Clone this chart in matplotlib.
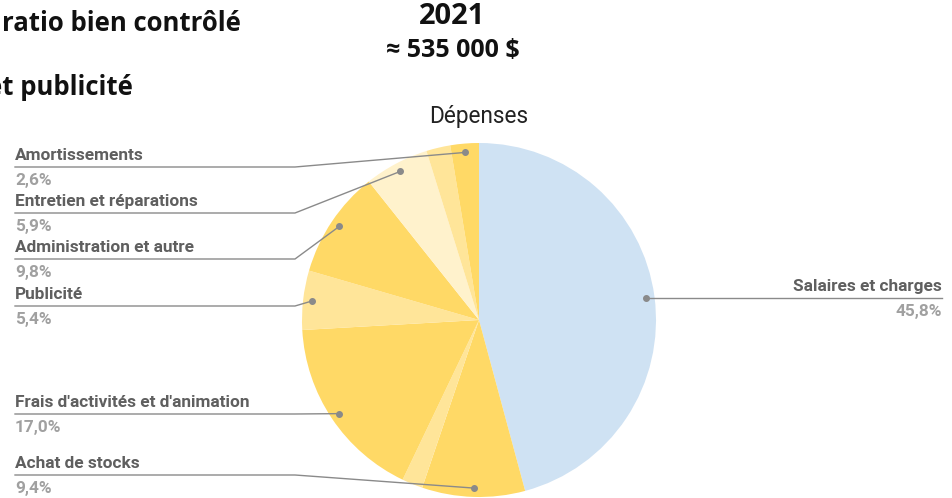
import matplotlib.pyplot as plt
import numpy as np

categories = ['Salaires et charges', 'Achat de stocks', '', "Frais d'activités et d'animation",
              'Publicité', 'Administration et autre', 'Entretien et réparations', '', 'Amortissements']
values = [45.8, 9.4, 1.9, 17.0, 5.4, 9.8, 5.9, 2.2, 2.6]
colors = ['#cfe2f3', '#ffd966', '#ffe599', '#ffd966', '#ffe599', '#ffd966', '#fff2cc', '#ffe599', '#ffd966']

title = 'Dépenses'
year = '2021'
total = '≈ 535 000 $'

H = 498
def Y(y):
    return H - y

fig = plt.figure(figsize=(9.52, 4.98), dpi=100)
ax = fig.add_axes([0, 0, 1, 1])

cx, cy, r = 479, Y(320), 177
wedges, _ = ax.pie(values, colors=colors, startangle=90, counterclock=False,
                   center=(cx, cy), radius=r, wedgeprops=dict(linewidth=0))
ax.set_xlim(0, 952)
ax.set_ylim(0, H)
ax.set_aspect('equal')
ax.axis('off')

# underline y (pixels) for the labelled slices, left side
left_lines = {
    'Amortissements': 167,
    'Entretien et réparations': 213,
    'Administration et autre': 259,
    'Publicité': 306,
    "Frais d'activités et d'animation": 414,
    'Achat de stocks': 475,
}
line_col = '#8a8a8a'
lab_col = '#5f5f5f'
pct_col = '#a0a0a0'
fnt = 'Roboto'
fs = 12.4

for w, cat, v in zip(wedges, categories, values):
    if not cat:
        continue
    mid = np.deg2rad((w.theta1 + w.theta2) / 2)
    dx = cx + 0.95 * r * np.cos(mid)
    dy = cy + 0.95 * r * np.sin(mid)
    pct = f'{v:.1f}'.replace('.', ',') + '%'
    ax.plot(dx, dy, 'o', color=line_col, ms=4, zorder=5)
    if cat in left_lines:
        ly = Y(left_lines[cat])
        ax.plot([15, 295, dx], [ly, ly, dy], color=line_col, lw=1.0, zorder=4)
        ax.text(15, ly + 4, cat, ha='left', va='bottom', fontsize=fs, fontweight='bold',
                color=lab_col, family=fnt)
        ax.text(15, ly - 6, pct, ha='left', va='top', fontsize=fs, fontweight='bold',
                color=pct_col, family=fnt)
    else:
        ax.plot([dx, 942], [dy, dy], color=line_col, lw=1.0, zorder=4)
        ax.text(942, dy + 4, cat, ha='right', va='bottom', fontsize=fs, fontweight='bold',
                color=lab_col, family=fnt)
        ax.text(942, dy - 6, pct, ha='right', va='top', fontsize=fs, fontweight='bold',
                color=pct_col, family=fnt)

ax.text(479, Y(116), title, ha='center', va='center', fontsize=16.3, color='#222222', family=fnt)

ax.text(452, Y(16), year, ha='center', va='center', fontsize=21, fontweight='bold',
        color='#111111', family='Open Sans')
ax.text(453, Y(50), total, ha='center', va='center', fontsize=18, fontweight='bold',
        color='#111111', family='Open Sans')
ax.text(2, Y(23), 'ratio bien contrôlé', ha='left', va='center', fontsize=18.5,
        fontweight='bold', color='#111111', family='Open Sans')
ax.text(-13, Y(87), 'et publicité', ha='left', va='center', fontsize=18.5,
        fontweight='bold', color='#111111', family='Open Sans')

fig.savefig('out.png', dpi=100)
